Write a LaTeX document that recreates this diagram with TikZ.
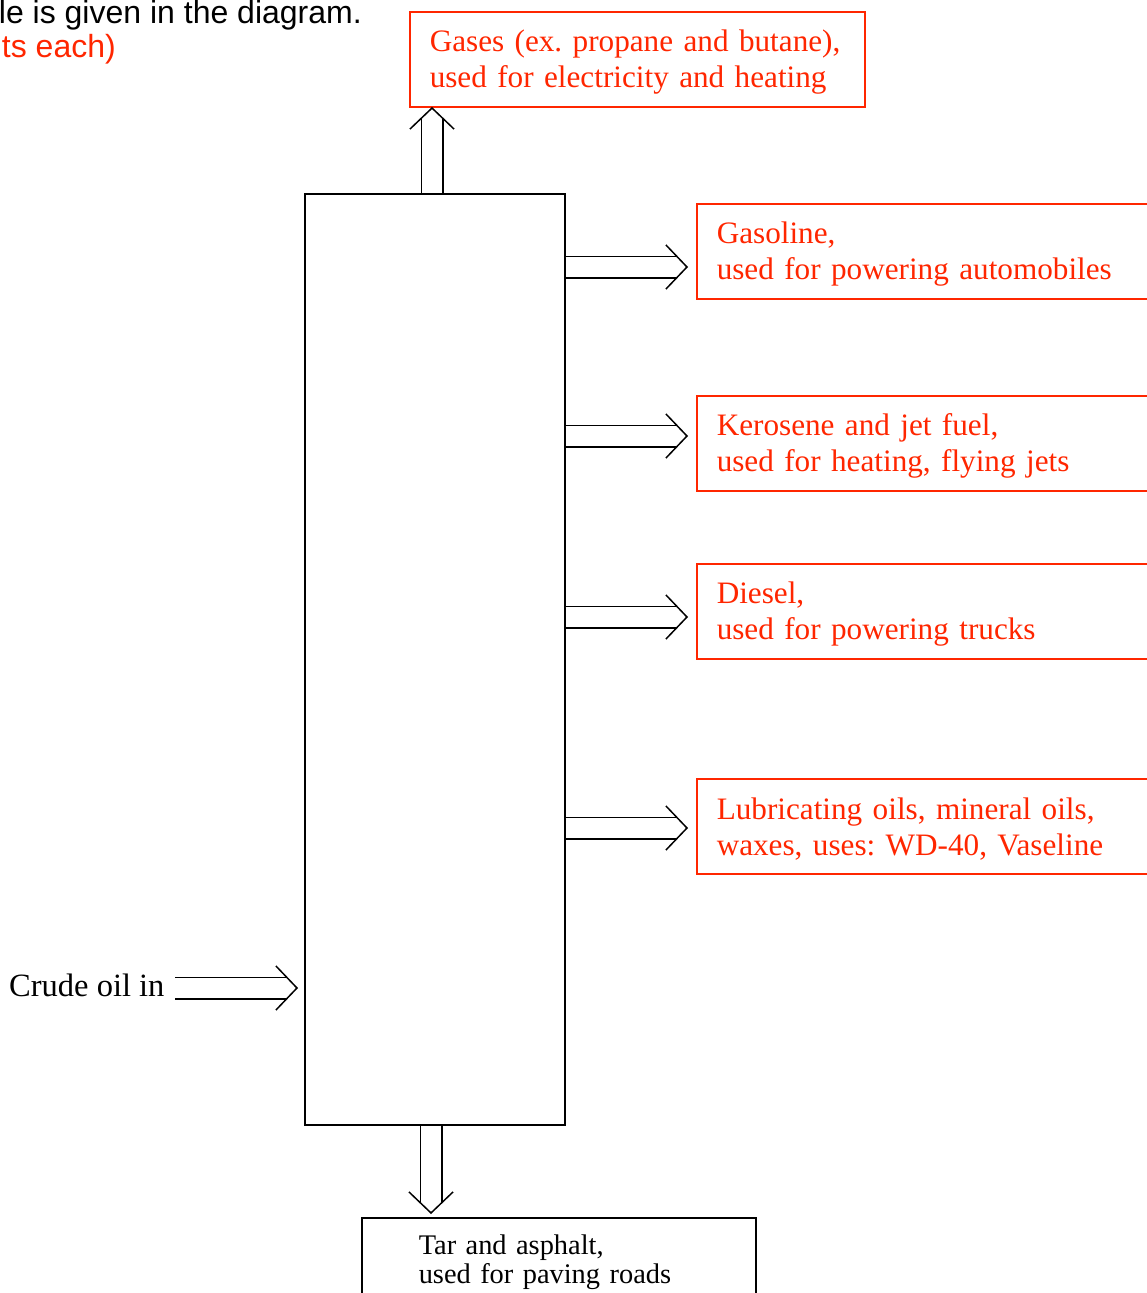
\documentclass[tikz,border=0pt]{standalone}
\usepackage{fontspec}
\setmainfont{Liberation Serif}
\setsansfont{Liberation Sans}
\usetikzlibrary{arrows.meta,positioning,decorations.markings}
\definecolor{answerred}{RGB}{255,38,0}
\frenchspacing

\begin{document}
\begin{tikzpicture}[x=1pt,y=-1pt]
    \useasboundingbox (0,0) rectangle (1146,1293);

    % question text, cut at the left edge
    \node[anchor=base east, inner sep=0pt, font=\sffamily\fontsize{32}{38}\selectfont] (question) at (362,23) {le is given in the diagram.};
    \node[anchor=base east, inner sep=0pt, text=answerred, font=\sffamily\fontsize{32}{38}\selectfont] (points) at (116,57) {ts each)};

    \node[draw, line width=1.5pt, minimum width=260pt, minimum height=931pt, anchor=north west] (column) at (304,193) {};

    \begin{scope}[every node/.style={draw=answerred, line width=1.5pt, text=answerred, anchor=north west, align=left, inner xsep=20pt, minimum height=95pt, execute at begin node={\rule{0pt}{28pt}}, font=\fontsize{31.2}{36}\selectfont}]
        \node[text width=415pt] (gases) at (409,11) {Gases (ex. propane and butane),\\used for electricity and heating};
        \node[text width=430pt] (gasoline) at (696,203) {Gasoline,\\used for powering automobiles};
        \node[text width=430pt] (kerosene) at (696,395) {Kerosene and jet fuel,\\used for heating, flying jets};
        \node[text width=430pt] (diesel) at (696,563) {Diesel,\\used for powering trucks};
        \node[text width=430pt] (lube) at (696,778) {Lubricating oils, mineral oils,\\waxes, uses: WD-40, Vaseline};
    \end{scope}

    \node[draw, line width=1.5pt, anchor=north west, align=left, inner xsep=57pt, inner ysep=17pt, text width=280pt, font=\fontsize{28.4}{29}\selectfont] (tar) at (361,1217) {Tar and asphalt,\\used for paving roads};

    \node[anchor=west, inner sep=0pt, font=\fontsize{32.5}{36}\selectfont] (crude) at (9,985) {Crude oil in};

    \coordinate (gasestip) at (432,107);
    \coordinate (gasolinetip) at (688,267);
    \coordinate (kerosenetip) at (688,436);
    \coordinate (dieseltip) at (688,617);
    \coordinate (lubetip) at (688,828);
    \coordinate (crudestart) at (175,988);
    \coordinate (crudetip) at (298,988);
    \coordinate (tartip) at (431,1214);

    \begin{scope}[every edge/.style={draw=black, line width=1.5pt, double distance=20pt, shorten >=11pt,
        postaction={decorate, decoration={markings, mark=at position 1 with {\arrow[line width=1.5pt]{Straight Barb[length=21pt,width=44pt,line width=1.5pt]}}}}}]
        \path (column.north -| gasestip) edge (gasestip);
        \path (column.east |- gasolinetip) edge (gasolinetip);
        \path (column.east |- kerosenetip) edge (kerosenetip);
        \path (column.east |- dieseltip) edge (dieseltip);
        \path (column.east |- lubetip) edge (lubetip);
        \path (crudestart) edge (crudetip);
        \path (column.south -| tartip) edge (tartip);
    \end{scope}
\end{tikzpicture}
\end{document}
